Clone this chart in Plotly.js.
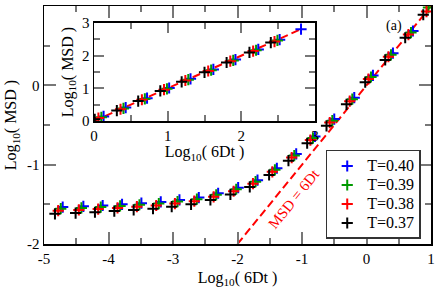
<!DOCTYPE html>
<html>
<head>
<meta charset="utf-8">
<script src="https://cdn.plot.ly/plotly-3.0.1.min.js"></script>
<style>html,body{margin:0;padding:0;background:#fff;}#chart{width:436px;height:288px;}</style>
</head>
<body>
<div id="chart"></div>
<script>
// ---- data ----
var seriesNames = ['T=0.40', 'T=0.39', 'T=0.38', 'T=0.37'];
var seriesColors = ['#0000ff', '#009a00', '#ff0000', '#000000'];

// main panel: log10(6Dt) vs log10(MSD)
var mainX_040 = [-4.71, -4.39, -4.09, -3.79, -3.49, -3.19, -2.90, -2.60, -2.30, -1.99, -1.69, -1.39, -1.09, -0.80, -0.50, -0.19, 0.10, 0.41, 0.72];
var mainY_040 = [-1.535, -1.525, -1.515, -1.50, -1.485, -1.47, -1.445, -1.415, -1.36, -1.29, -1.195, -1.045, -0.865, -0.645, -0.425, -0.155, 0.125, 0.405, 0.685];
var mainX_039 = [-4.74, -4.42, -4.12, -3.82, -3.52, -3.22, -2.93, -2.63, -2.33, -2.02, -1.72, -1.42, -1.12, -0.83, -0.53, -0.22, 0.07, 0.38, 0.69, 0.96];
var mainY_039 = [-1.555, -1.545, -1.535, -1.52, -1.505, -1.49, -1.465, -1.435, -1.38, -1.31, -1.215, -1.065, -0.885, -0.665, -0.445, -0.175, 0.105, 0.385, 0.665, 0.98];
var mainX_038 = [-4.78, -4.46, -4.16, -3.86, -3.56, -3.26, -2.97, -2.67, -2.37, -2.06, -1.76, -1.46, -1.16, -0.87, -0.57, -0.26, 0.03, 0.34, 0.65, 0.93];
var mainY_038 = [-1.58, -1.57, -1.56, -1.545, -1.53, -1.515, -1.49, -1.46, -1.405, -1.335, -1.24, -1.09, -0.91, -0.69, -0.47, -0.20, 0.08, 0.36, 0.64, 0.93];
var mainX_037 = [-4.83, -4.51, -4.21, -3.91, -3.61, -3.31, -3.02, -2.72, -2.42, -2.11, -1.81, -1.51, -1.21, -0.92, -0.62, -0.31, -0.02, 0.29, 0.60, 0.88];
var mainY_037 = [-1.62, -1.61, -1.60, -1.585, -1.57, -1.555, -1.53, -1.50, -1.445, -1.375, -1.28, -1.13, -0.95, -0.73, -0.51, -0.24, 0.04, 0.32, 0.60, 0.89];

// inset panel
var insetX_040 = [0.13, 0.43, 0.72, 1.02, 1.31, 1.62, 1.92, 2.23, 2.52, 2.81];
var insetY_040 = [0.14, 0.41, 0.70, 1.01, 1.29, 1.58, 1.88, 2.19, 2.49, 2.81];
var insetX_039 = [0.10, 0.40, 0.69, 0.99, 1.28, 1.59, 1.89, 2.20, 2.49];
var insetY_039 = [0.115, 0.385, 0.675, 0.985, 1.265, 1.555, 1.855, 2.165, 2.465];
var insetX_038 = [0.06, 0.36, 0.65, 0.95, 1.24, 1.55, 1.85, 2.16, 2.45];
var insetY_038 = [0.09, 0.36, 0.65, 0.96, 1.24, 1.53, 1.83, 2.14, 2.43];
var insetX_037 = [0.01, 0.31, 0.60, 0.90, 1.19, 1.50, 1.80, 2.11, 2.40];
var insetY_037 = [0.05, 0.32, 0.61, 0.92, 1.20, 1.49, 1.79, 2.10, 2.40];

// MSD = 6Dt reference lines
var mainLineX = [-2, 1];
var mainLineY = [-2, 1];
var insetLineX = [0, 2.82];
var insetLineY = [0, 2.82];

// tick labels
var mainXTicks = [-5, -4, -3, -2, -1, 0, 1];
var mainXTickText = ['-5', '-4', '-3', '-2', '-1', '0', '1'];
var mainYTicks = [-2, -1, 0, 1];
var mainYTickText = ['-2', '-1', '0', '1'];
var insetTicks = [0, 1, 2, 3];
var insetTickText = ['0', '1', '2', '3'];

// ---- chart ----
var FONT = 'Liberation Serif, Times New Roman, serif';
var mainX = [mainX_040, mainX_039, mainX_038, mainX_037];
var mainY = [mainY_040, mainY_039, mainY_038, mainY_037];
var insetX = [insetX_040, insetX_039, insetX_038, insetX_037];
var insetY = [insetY_040, insetY_039, insetY_038, insetY_037];

var traces = [];
traces.push({x: mainLineX, y: mainLineY, mode: 'lines', xaxis: 'x', yaxis: 'y',
  line: {color: '#ff0000', width: 2, dash: '8px,4px'}, showlegend: false, hoverinfo: 'skip'});
traces.push({x: insetLineX, y: insetLineY, mode: 'lines', xaxis: 'x2', yaxis: 'y2',
  line: {color: '#ff0000', width: 2, dash: '8px,4px'}, showlegend: false, hoverinfo: 'skip'});
for (var i = 0; i < 4; i++) {
  traces.push({
    x: mainX[i], y: mainY[i], mode: 'markers', xaxis: 'x', yaxis: 'y',
    name: '<span style="font-size:16px">' + seriesNames[i] + '</span>',
    marker: {symbol: 'cross-thin-open', size: 8, color: seriesColors[i], line: {width: 2, color: seriesColors[i]}},
    showlegend: true
  });
}
for (var j = 0; j < 4; j++) {
  traces.push({
    x: insetX[j], y: insetY[j], mode: 'markers', xaxis: 'x2', yaxis: 'y2',
    marker: {symbol: 'cross-thin-open', size: 8, color: seriesColors[j], line: {width: 2, color: seriesColors[j]}},
    showlegend: false
  });
}

function axisBase() {
  return {
    showline: true, linecolor: '#000', linewidth: 1.5, mirror: 'ticks',
    ticks: 'inside', ticklen: 12, tickwidth: 2, tickcolor: '#777',
    tickfont: {family: FONT, size: 15, color: '#000'},
    showgrid: false, zeroline: false, fixedrange: true
  };
}

var xa = axisBase();
Object.assign(xa, {range: [-5, 1], domain: [0, 1], anchor: 'y', tickmode: 'array', tickvals: mainXTicks, ticktext: mainXTickText,
  minor: {dtick: 0.5, tick0: 0, ticklen: 6, tickwidth: 2, tickcolor: '#777', ticks: 'inside'},
  title: {text: 'Log<sub>10</sub>( 6Dt )', font: {family: FONT, size: 16, color: '#000'}, standoff: 9}});
var ya = axisBase();
Object.assign(ya, {range: [-2, 1], domain: [0, 1], anchor: 'x', tickmode: 'array', tickvals: mainYTicks, ticktext: mainYTickText,
  minor: {dtick: 0.5, tick0: 0, ticklen: 6, tickwidth: 2, tickcolor: '#777', ticks: 'inside'},
  title: {text: 'Log<sub>10</sub>( MSD )', font: {family: FONT, size: 16, color: '#000'}, standoff: 6}});
var xa2 = axisBase();
Object.assign(xa2, {range: [0, 3], domain: [0.1292, 0.7003], anchor: 'y2', tickmode: 'array', tickvals: insetTicks, ticktext: insetTickText,
  ticklen: 10,
  minor: {dtick: 0.5, tick0: 0, ticklen: 6, tickwidth: 2, tickcolor: '#777', ticks: 'inside'},
  title: {text: 'Log<sub>10</sub>( 6Dt )', font: {family: FONT, size: 16, color: '#000'}, standoff: 0}});
var ya2 = axisBase();
Object.assign(ya2, {range: [0, 3], domain: [0.5168, 0.9286], anchor: 'x2', tickmode: 'array', tickvals: insetTicks, ticktext: insetTickText,
  ticklen: 10,
  minor: {dtick: 0.5, tick0: 0, ticklen: 6, tickwidth: 2, tickcolor: '#777', ticks: 'inside'},
  title: {text: 'Log<sub>10</sub>( MSD )', font: {family: FONT, size: 16, color: '#000'}, standoff: 4}});

var layout = {
  width: 436, height: 288,
  margin: {l: 44, r: 5, t: 6, b: 44},
  paper_bgcolor: '#fff', plot_bgcolor: '#fff',
  font: {family: FONT, color: '#000'},
  xaxis: xa, yaxis: ya, xaxis2: xa2, yaxis2: ya2,
  showlegend: true,
  legend: {x: 0.728, y: 0.395, xanchor: 'left', yanchor: 'top', bgcolor: '#fff',
    bordercolor: '#333', borderwidth: 1.5, font: {family: FONT, size: 12, color: '#000'},
    itemwidth: 30, tracegroupgap: 0},
  annotations: [
    {x: -1.13, y: -1.43, xref: 'x', yref: 'y', text: 'MSD = 6Dt', showarrow: false, textangle: -51,
      font: {family: FONT, size: 15, color: '#ff0000'}},
    {x: 0.43, y: 0.75, xref: 'x', yref: 'y', text: '(a)', showarrow: false,
      font: {family: FONT, size: 14, color: '#000'}}
  ]
};

Plotly.newPlot('chart', traces, layout, {displayModeBar: false, staticPlot: true});
</script>
</body>
</html>
